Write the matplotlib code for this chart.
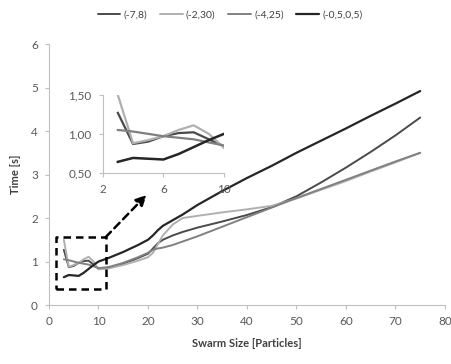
#!/usr/bin/env python3
"""Swarm size vs. run time for four search ranges, with a zoomed inset."""

import matplotlib
matplotlib.use("Agg")
import matplotlib.pyplot as plt
from matplotlib.ticker import FuncFormatter

plt.rcParams["font.family"] = ["Lato", "DejaVu Sans"]

SWARM = [3, 4, 5, 6, 7, 8, 9, 10, 12, 15, 18, 20, 21, 22, 23, 25, 27, 30,
         35, 40, 45, 50, 55, 60, 65, 70, 75]

T_M7_8 = [1.27, 0.87, 0.90, 0.97, 1.01, 1.02, 0.93, 0.84, 0.86, 0.95, 1.08, 1.18,
          1.30, 1.42, 1.50, 1.60, 1.68, 1.78, 1.92, 2.07, 2.25, 2.50, 2.82, 3.16,
          3.52, 3.90, 4.31]
T_M2_30 = [1.50, 0.88, 0.92, 0.97, 1.05, 1.11, 1.00, 0.82, 0.84, 0.92, 1.02, 1.10,
           1.20, 1.40, 1.60, 1.85, 2.00, 2.05, 2.13, 2.20, 2.28, 2.45, 2.65, 2.85,
           3.07, 3.28, 3.50]
T_M4_25 = [1.05, 1.03, 1.00, 0.97, 0.95, 0.93, 0.89, 0.85, 0.87, 0.97, 1.10, 1.20,
           1.27, 1.30, 1.32, 1.38, 1.46, 1.58, 1.80, 2.02, 2.24, 2.46, 2.67, 2.88,
           3.09, 3.30, 3.50]
T_M05_05 = [0.64, 0.69, 0.68, 0.67, 0.74, 0.83, 0.92, 1.00, 1.08, 1.22, 1.38, 1.50,
            1.60, 1.72, 1.82, 1.95, 2.08, 2.30, 2.62, 2.92, 3.20, 3.50, 3.78, 4.06,
            4.35, 4.63, 4.92]

LABELS = ["(-7,8)", "(-2,30)", "(-4,25)", "(-0,5,0,5)"]
SERIES = [T_M7_8, T_M2_30, T_M4_25, T_M05_05]
COLORS = ["#4a4a4a", "#b0b0b0", "#808080", "#262626"]
WIDTHS = [1.4, 1.4, 1.4, 1.6]

# zoom box and arrow, in data units of the main axes
BOX_X = (1.5, 11.45)
BOX_Y = (0.38, 1.56)
ARROW_TIP = (19.7, 2.53)

SPINE = "#bfbfbf"
TEXT = "#595959"

fig = plt.figure(figsize=(4.51, 3.64), dpi=100)
ax = fig.add_axes([0.1086, 0.162, 0.878, 0.717])

for ys, lab, c, lw in zip(SERIES, LABELS, COLORS, WIDTHS):
    ax.plot(SWARM, ys, color=c, lw=lw, label=lab, solid_capstyle="round")

ax.set_xlim(0, 80)
ax.set_ylim(0, 6)
ax.set_xticks(range(0, 81, 10))
ax.set_yticks(range(0, 7))
for side in ("top", "right"):
    ax.spines[side].set_visible(False)
for side in ("left", "bottom"):
    ax.spines[side].set_color(SPINE)
ax.tick_params(direction="out", length=3, color=SPINE, labelcolor=TEXT,
               labelsize=8.5, pad=5)
ax.set_xlabel("Swarm Size [Particles]", fontsize=8, fontweight="bold",
              color="#404040", labelpad=8)
ax.set_ylabel("Time [s]", fontsize=8, fontweight="bold", color="#404040",
              labelpad=7)

# dashed zoom box + dashed arrow
bx = [BOX_X[0], BOX_X[1], BOX_X[1], BOX_X[0], BOX_X[0]]
by = [BOX_Y[0], BOX_Y[0], BOX_Y[1], BOX_Y[1], BOX_Y[0]]
ax.plot(bx, by, color="black", lw=1.8, ls=(0, (3, 2)), zorder=5)
ax.annotate("", xy=ARROW_TIP, xytext=(BOX_X[1], BOX_Y[1]),
            arrowprops=dict(arrowstyle="-|>,head_length=0.6,head_width=0.3",
                            color="black", lw=1.8, ls=(0, (3, 2)),
                            shrinkA=0, shrinkB=0),
            zorder=5)

# inset
ins = fig.add_axes([0.2277, 0.5255, 0.269, 0.2135])
ins.patch.set_alpha(0)
n = sum(1 for x in SWARM if x <= 10)
for ys, c, lw in zip(SERIES, COLORS, WIDTHS):
    ins.plot(SWARM[:n], ys[:n], color=c, lw=lw + 0.2)
ins.set_xlim(2, 10)
ins.set_ylim(0.5, 1.5)
ins.set_xticks([2, 6, 10])
ins.set_yticks([0.5, 1.0, 1.5])
ins.yaxis.set_major_formatter(FuncFormatter(lambda v, _: f"{v:.2f}".replace(".", ",")))
for side in ("top", "right"):
    ins.spines[side].set_visible(False)
for side in ("left", "bottom"):
    ins.spines[side].set_color(SPINE)
ins.tick_params(direction="out", length=3, color=SPINE, labelcolor=TEXT,
                labelsize=8.5, pad=5)

handles, labels = ax.get_legend_handles_labels()
fig.legend(handles, labels, loc="center", bbox_to_anchor=(0.51, 0.958), ncol=4,
           frameon=False, fontsize=7.5, handlelength=2.2, handletextpad=0.3,
           columnspacing=1.2, labelcolor="#404040")

fig.savefig("out.png", dpi=100)
